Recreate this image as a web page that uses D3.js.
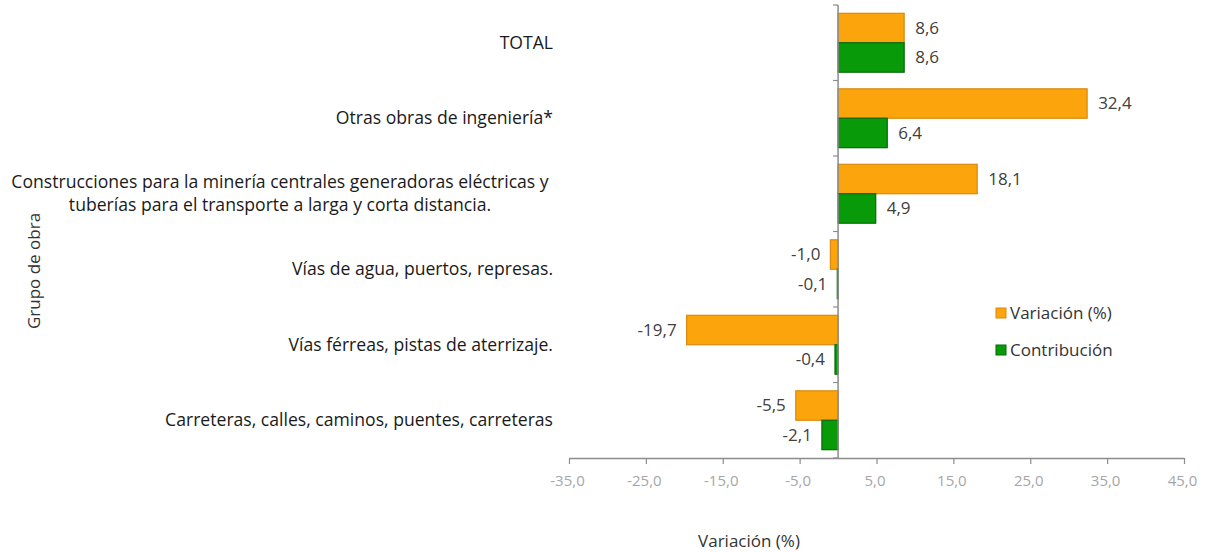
<html>
<head>
  <meta charset="utf-8">
  <style>
    body { margin: 0; background: #fff; }
    text { font-family: "Open Sans", "Liberation Sans", sans-serif; }
  </style>
</head>
<body>
  <svg></svg>
  <script src="https://d3js.org/d3.v7.min.js"></script>
  <script>
    // chart data
    let categories = [
      "TOTAL",
      "Otras obras de ingeniería*",
      "Construcciones para la minería centrales generadoras eléctricas y|tuberías para el transporte a larga y corta distancia.",
      "Vías de agua, puertos, represas.",
      "Vías férreas, pistas de aterrizaje.",
      "Carreteras, calles, caminos, puentes, carreteras"
    ];
    let variacion = [8.6, 32.4, 18.1, -1.0, -19.7, -5.5];
    let contribucion = [8.6, 6.4, 4.9, -0.1, -0.4, -2.1];
    let seriesNames = ["Variación (%)", "Contribución"];
    let xTicks = [-35, -25, -15, -5, 5, 15, 25, 35, 45];

    let width = 1205, height = 552;
    let margin = {left: 569, right: 21, top: 5, bottom: 94};

    let svg = d3.select("svg")
        .attr("width", width)
        .attr("height", height);

    let x = d3.scaleLinear()
        .domain([-35, 45])
        .range([margin.left, width - margin.right]);

    let y = d3.scaleBand()
        .domain(categories)
        .range([margin.top, height - margin.bottom])
        .paddingInner(0.22)
        .paddingOuter(0.11);

    let sub = d3.scaleBand()
        .domain(seriesNames)
        .range([0, y.bandwidth()]);

    let colors = {"Variación (%)": ["#fca40c", "#d98a10"], "Contribución": ["#089a08", "#056a05"]};
    // comma decimal, plain hyphen for minus
    let fmt = v => d3.format(".1f")(v).replace(".", ",").replace("\u2212", "-");

    let rows = categories.map((c, i) => ({cat: c, vals: [variacion[i], contribucion[i]]}));

    // bars
    let g = svg.append("g");
    rows.forEach(r => {
      r.vals.forEach((v, j) => {
        let s = seriesNames[j];
        let y0 = y(r.cat) + sub(s);
        g.append("rect")
          .attr("x", Math.min(x(0), x(v)))
          .attr("y", y0)
          .attr("width", Math.abs(x(v) - x(0)))
          .attr("height", sub.bandwidth())
          .attr("fill", colors[s][0])
          .attr("stroke", colors[s][1])
          .attr("stroke-width", 1.2);
        g.append("text")
          .attr("x", v >= 0 ? x(v) + 11 : x(v) - 10)
          .attr("y", y0 + sub.bandwidth() / 2)
          .attr("dy", "0.35em")
          .attr("text-anchor", v >= 0 ? "start" : "end")
          .style("font-size", "17px")
          .attr("fill", "#404040")
          .text(fmt(v));
      });
    });

    // vertical zero axis with ticks at band boundaries
    let axisColor = "#8c8c8c";
    svg.append("line")
      .attr("x1", x(0)).attr("x2", x(0))
      .attr("y1", margin.top).attr("y2", height - margin.bottom)
      .attr("stroke", axisColor).attr("stroke-width", 1.5);
    let step = y.step();
    d3.range(categories.length + 1).forEach(i => {
      let yy = y.range()[0] + y.step() * y.paddingOuter() - step * y.paddingInner() / 2 + i * step;
      svg.append("line")
        .attr("x1", x(0) - 5).attr("x2", x(0))
        .attr("y1", yy).attr("y2", yy)
        .attr("stroke", axisColor).attr("stroke-width", 1.2);
    });

    // x axis
    let xAxis = svg.append("g")
      .attr("transform", "translate(0," + (height - margin.bottom) + ")")
      .call(d3.axisBottom(x).tickValues(xTicks).tickSize(6).tickSizeOuter(0).tickFormat(fmt));
    xAxis.select(".domain").attr("stroke", axisColor).attr("stroke-width", 1.5);
    xAxis.selectAll(".tick line").attr("stroke", axisColor).attr("stroke-width", 1.2)
      .attr("y1", 0).attr("y2", 6);
    xAxis.selectAll(".tick text")
      .attr("fill", "#a6a6a6")
      .attr("y", 17)
      .attr("dx", "-2")
      .style("font-size", "15px")
      .style("font-family", "'Open Sans', sans-serif");

    // category labels
    let labelX = 553;
    rows.forEach(r => {
      let lines = r.cat.split("|");
      let cy = y(r.cat) + y.bandwidth() / 2;
      if (lines.length === 1) {
        svg.append("text")
          .attr("x", labelX).attr("y", cy).attr("dy", "0.35em")
          .attr("text-anchor", "end")
          .style("font-size", "17.6px").attr("fill", "#1a1a1a")
          .text(lines[0]);
      } else {
        let t = svg.append("text")
          .attr("text-anchor", "middle")
          .style("font-size", "17.6px").attr("fill", "#1a1a1a");
        lines.forEach((l, k) => {
          t.append("tspan")
            .attr("x", 280)
            .attr("y", cy + (k - (lines.length - 1) / 2) * 23)
            .attr("dy", "0.35em")
            .text(l);
        });
      }
    });

    // axis titles
    svg.append("text")
      .attr("transform", "translate(34,271) rotate(-90)")
      .attr("dy", "0.35em")
      .attr("text-anchor", "middle")
      .style("font-size", "17px").attr("fill", "#333")
      .text("Grupo de obra");
    svg.append("text")
      .attr("x", 749).attr("y", 541)
      .attr("dy", "0.35em")
      .attr("text-anchor", "middle")
      .style("font-size", "17px").attr("fill", "#333")
      .text("Variación (%)");

    // legend
    let legend = svg.append("g").attr("transform", "translate(996,307)");
    seriesNames.forEach((s, i) => {
      let lg = legend.append("g").attr("transform", "translate(0," + i * 37 + ")");
      lg.append("rect")
        .attr("x", 0).attr("y", 1).attr("width", 10).attr("height", 10)
        .attr("fill", colors[s][0]).attr("stroke", colors[s][1]);
      lg.append("text")
        .attr("x", 14).attr("y", 6).attr("dy", "0.35em")
        .style("font-size", "17px").attr("fill", "#333")
        .text(s);
    });
  </script>
</body>
</html>
